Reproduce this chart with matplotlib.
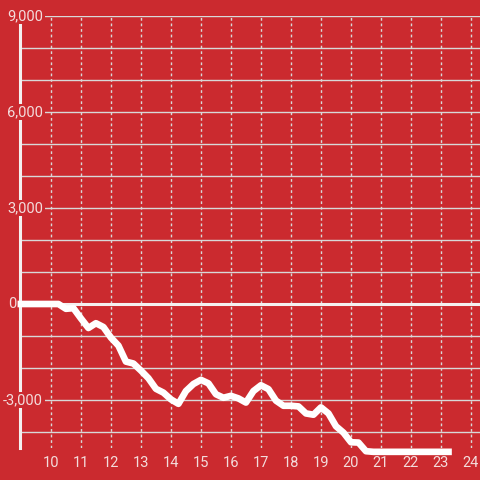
import numpy as np
import matplotlib
matplotlib.use("Agg")
import matplotlib.pyplot as plt

plt.rcParams['font.family'] = ['Roboto', 'DejaVu Sans']

BG = '#cb2a2f'
TXT = '#f3dcdc'
GRID = '#d8d8d8'

# hours of the day (quarter steps) and running value
hours = [9.0, 9.25, 9.5, 9.75, 10.0, 10.25, 10.5, 10.75, 11.0, 11.25, 11.5, 11.75,
         12.0, 12.25, 12.5, 12.75, 13.0, 13.25, 13.5, 13.75, 14.0, 14.25, 14.5, 14.75,
         15.0, 15.25, 15.5, 15.75, 16.0, 16.25, 16.5, 16.75, 17.0, 17.25, 17.5, 17.75,
         18.0, 18.25, 18.5, 18.75, 19.0, 19.25, 19.5, 19.75, 20.0, 20.25, 20.5, 20.75,
         21.0, 21.25, 21.5, 21.75, 22.0, 22.25, 22.5, 22.75, 23.0, 23.25]
values = [0, 0, 0, 0, 0, 0, -150, -130, -450, -750, -600, -720,
          -1050, -1300, -1800, -1860, -2080, -2320, -2650, -2770, -2980, -3120, -2720, -2500,
          -2370, -2480, -2820, -2930, -2870, -2950, -3080, -2720, -2540, -2660, -3020, -3180,
          -3180, -3200, -3420, -3460, -3230, -3420, -3820, -4020, -4320, -4330, -4600, -4620,
          -4620, -4620, -4620, -4620, -4620, -4620, -4620, -4620, -4620, -4620]

x_ticks = list(range(10, 25))
y_labels = [9000, 6000, 3000, -3000]
y_grid = [v for v in range(-4000, 9001, 1000) if v != 0]

fig = plt.figure(figsize=(4.8, 4.8), dpi=100, facecolor=BG)
ax = fig.add_axes([20 / 480, 32 / 480, 460 / 480, 432 / 480])
ax.set_facecolor(BG)
ax.set_xlim(8.97, 24.3)
ax.set_ylim(-4500, 9000)

for v in y_grid:
    ax.axhline(v, color=GRID, lw=1.0, zorder=1)
for t in x_ticks:
    ax.axvline(t, color=GRID, lw=1.0, ls=(0, (2, 2)), zorder=1)
ax.axhline(0, color='#f4f0f0', lw=2.2, zorder=2)

ax.plot(hours, values, color='white', lw=4.8, solid_capstyle='projecting',
        solid_joinstyle='round', clip_on=False, zorder=5)

for s in ['top', 'right', 'bottom']:
    ax.spines[s].set_visible(False)
ax.spines['left'].set_color('#f4f0f0')
ax.spines['left'].set_linewidth(2.2)
ax.spines['left'].set_zorder(3)

ax.set_yticks([])
ax.set_xticks(x_ticks)
ax.set_xticklabels([str(t) for t in x_ticks])
ax.tick_params(axis='x', length=0, pad=6, labelsize=10.5, colors=TXT)

for v in y_labels:
    ax.text(9.74, v, f"{v:,}", ha='right', va='center',
            fontsize=10.5, color=TXT, zorder=4, clip_on=False,
            bbox=dict(facecolor=BG, edgecolor='none', pad=1.0))
# zero label sits left of the axis line
ax.text(8.97 - 12 / 30, 0, "0", ha='left', va='center', fontsize=10.5,
        color=TXT, zorder=4, clip_on=False)

fig.savefig('out.png', dpi=100, facecolor=BG)
